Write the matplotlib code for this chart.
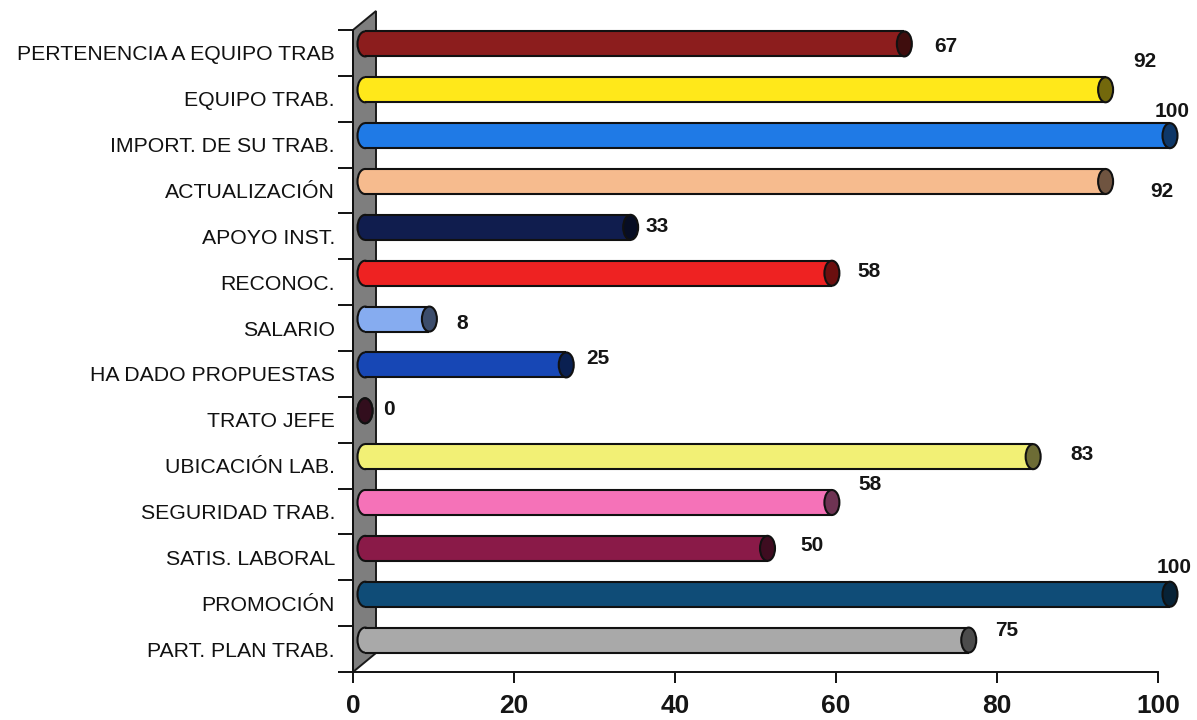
import matplotlib
matplotlib.use("Agg")
import matplotlib.pyplot as plt
from matplotlib.patches import Ellipse, Rectangle, Polygon
from matplotlib.colors import to_rgb
import numpy as np

plt.rcParams['font.family'] = ['Liberation Sans', 'DejaVu Sans']

# Survey items, listed top to bottom
categories = [
    "PERTENENCIA A EQUIPO TRAB",
    "EQUIPO TRAB.",
    "IMPORT. DE SU TRAB.",
    "ACTUALIZACIÓN",
    "APOYO INST.",
    "RECONOC.",
    "SALARIO",
    "HA DADO PROPUESTAS",
    "TRATO JEFE",
    "UBICACIÓN LAB.",
    "SEGURIDAD TRAB.",
    "SATIS. LABORAL",
    "PROMOCIÓN",
    "PART. PLAN TRAB.",
]
values = [67, 92, 100, 92, 33, 58, 8, 25, 0, 83, 58, 50, 100, 75]
xticks = [0, 20, 40, 60, 80, 100]

bar_colors = [
    "#8c1d1d", "#ffe81a", "#1f7ae6", "#f6bb8e", "#101d4e", "#ee2222", "#86acf0",
    "#1747b5", "#6e1f40", "#f2f075", "#f572b8", "#8a1a48", "#0f4c77", "#a9a9a9",
]

# value-label offsets from the bar end (pixels)
label_offsets = [
    (53, 6), (51, 37), (14, 33), (68, -1), (38, 10), (49, 11), (45, 5),
    (44, 15), (36, 10), (61, 11), (50, 27), (57, 12), (16, 36), (50, 19),
]

W, H = 1197, 720
fig = plt.figure(figsize=(W / 100, H / 100), dpi=100)
fig.patch.set_facecolor("white")
ax = fig.add_axes([353 / W, 48 / H, 805 / W, 642 / H])
ax.set_xlim(0, 100)
ax.set_ylim(-0.5, 13.5)
n = len(categories)
rows = np.arange(n)[::-1]  # first category at the top

# pixel -> data conversions for the 3-D depth effect
px_x = 100 / 805
px_y = 14 / 642
depth_x, depth_y = 23 * px_x, 19 * px_y

# side wall
wall = Polygon([(0, -0.5), (0, 13.5), (depth_x, 13.5 + depth_y), (depth_x, -0.5 + depth_y)],
               closed=True, facecolor="#7e7e7e", edgecolor="#1a1a1a", lw=1.4,
               zorder=1, clip_on=False)
ax.add_patch(wall)

# cylinders
shift_x, shift_y = 12 * px_x, 9 * px_y
bar_h = 25 * px_y
cap_w = 15 * px_x


def darken(c, f):
    r, g, b = to_rgb(c)
    return (r * f, g * f, b * f)


for y, v, c in zip(rows, values, bar_colors):
    yc = y + shift_y
    x0 = shift_x
    x1 = v + shift_x
    ax.add_patch(Ellipse((x0, yc), cap_w, bar_h, facecolor=c, edgecolor="#111111",
                         lw=1.5, zorder=3, clip_on=False))
    if v > 0:
        ax.add_patch(Rectangle((x0, yc - bar_h / 2), x1 - x0, bar_h, facecolor=c,
                               edgecolor="none", zorder=4, clip_on=False))
        ax.plot([x0, x1], [yc + bar_h / 2] * 2, color="#111111", lw=1.5, zorder=5,
                solid_capstyle="butt", clip_on=False)
        ax.plot([x0, x1], [yc - bar_h / 2] * 2, color="#111111", lw=1.5, zorder=5,
                solid_capstyle="butt", clip_on=False)
    ax.add_patch(Ellipse((x1, yc), cap_w, bar_h, facecolor=darken(c, 0.45),
                         edgecolor="#111111", lw=1.5, zorder=6, clip_on=False))

# value labels
for y, v, (dx, dy) in zip(rows, values, label_offsets):
    ax.annotate(f"{v}", xy=(v, y), xytext=(dx, dy), textcoords="offset pixels",
                ha="center", va="center", fontsize=15, fontweight="bold",
                color="#151515", zorder=7, annotation_clip=False)

# axes styling
for s in ("top", "right"):
    ax.spines[s].set_visible(False)
ax.spines["left"].set_color("#111111")
ax.spines["bottom"].set_color("#111111")
ax.spines["left"].set_linewidth(1.4)
ax.spines["bottom"].set_linewidth(1.4)
ax.spines["left"].set_zorder(2)

ax.set_xticks(xticks)
ax.set_xticklabels([str(t) for t in xticks], fontsize=19, fontweight="bold", color="#151515")
ax.tick_params(axis="x", length=8, width=1.4, color="#111111", pad=8)

ax.set_yticks(rows)
ax.set_yticklabels(categories, fontsize=15.3, color="#111111")
ax.set_yticks(np.arange(-0.5, n, 1.0), minor=True)
ax.tick_params(axis="y", which="major", length=0, pad=13)
ax.tick_params(axis="y", which="minor", length=11, width=1.4, color="#111111")

fig.savefig("out.png", dpi=100, facecolor="white")
